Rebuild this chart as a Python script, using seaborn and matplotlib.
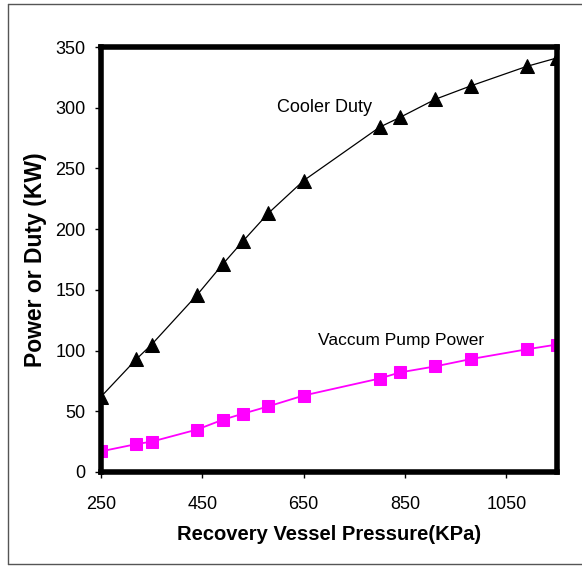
import matplotlib
matplotlib.use("Agg")
import matplotlib.pyplot as plt
import seaborn as sns
import pandas as pd
from matplotlib.lines import Line2D

pressure = [250, 320, 350, 440, 490, 530, 580, 650, 800, 840, 910, 980, 1090, 1150]
cooler_duty = [62, 93, 105, 146, 171, 190, 213, 240, 284, 292, 307, 318, 334, 341]
pump_power = [17, 23, 25, 35, 43, 48, 54, 63, 77, 82, 87, 93, 101, 105]
x_ticks = [250, 450, 650, 850, 1050]
y_ticks = [0, 50, 100, 150, 200, 250, 300, 350]

sns.set_theme(style="white")
plt.rcParams['font.family'] = ['Liberation Sans', 'DejaVu Sans']

df = pd.DataFrame({"pressure": pressure, "cooler": cooler_duty, "pump": pump_power})

fig = plt.figure(figsize=(5.82, 5.66), dpi=100)
ax = fig.add_axes([101/582, 94/566, 456/582, 425/566])

sns.lineplot(data=df, x="pressure", y="cooler", ax=ax, color="black", lw=0.9,
             marker="^", markersize=9.5, markeredgecolor="black", markerfacecolor="black")
sns.lineplot(data=df, x="pressure", y="pump", ax=ax, color="#FF00FF", lw=1.3,
             marker="s", markersize=8.5, markeredgecolor="#FF00FF", markerfacecolor="#FF00FF")

ax.set_xlim(250, 1150)
ax.set_ylim(0, 350)
ax.set_xticks(x_ticks)
ax.set_yticks(y_ticks)
for s in ax.spines.values():
    s.set_linewidth(4)
    s.set_color("black")
ax.tick_params(axis="both", which="both", direction="out", length=4, width=1,
               color="black", labelsize=13, labelcolor="black")
ax.tick_params(axis="x", pad=13)
ax.tick_params(axis="y", pad=7)
ax.tick_params(top=False, right=False, bottom=True, left=True)

ax.set_xlabel("Recovery Vessel Pressure(KPa)", fontsize=14.5, fontweight="bold",
              labelpad=9, color="black")
ax.set_ylabel("Power or Duty (KW)", fontsize=16.5, fontweight="bold",
              labelpad=6, color="black")

ax.text(598, 300, "Cooler Duty", fontsize=13, va="center", ha="left", color="black")
ax.text(678, 108, "Vaccum Pump Power", fontsize=12.5, va="center", ha="left", color="black")

bx0, by0, by1 = 8/582, 2/566, 562/566
for xs, ys in [([bx0, bx0], [by0, by1]), ([bx0, 1.0], [by1, by1]), ([bx0, 1.0], [by0, by0])]:
    fig.add_artist(Line2D(xs, ys, transform=fig.transFigure, color="#555555", lw=1.0))

fig.savefig("out.png", dpi=100)
